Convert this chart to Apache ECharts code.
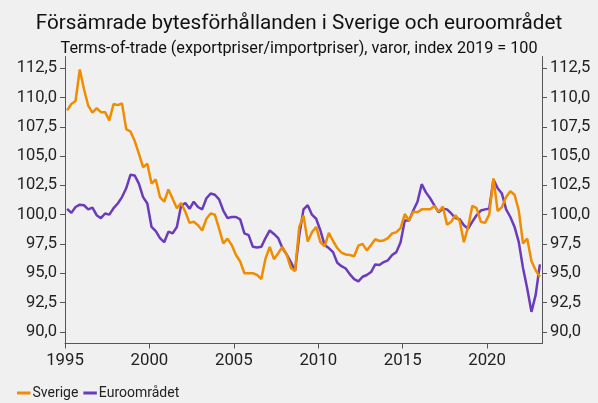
<!DOCTYPE html>
<html>
<head>
<meta charset="utf-8">
<script src="https://cdn.jsdelivr.net/npm/echarts@6/dist/echarts.min.js"></script>
<style>
html,body{margin:0;padding:0;background:#f0f0f0;}
#c{width:598px;height:403px;}
</style>
</head>
<body>
<div id="c"></div>
<script>
// Quarterly data, 1995 Q1 – 2023 Q1
var startYear = 1995;
var sverige = [108.9,109.45,109.7,112.4,110.7,109.3,108.7,109.1,108.75,108.75,108.05,109.45,109.35,109.5,107.3,107.1,106.3,105.2,104.05,104.35,102.65,103.0,101.5,101.1,102.15,101.35,100.55,101.0,100.25,99.3,99.4,99.1,98.65,99.65,100.1,100.0,98.8,97.55,97.95,97.4,96.55,96.0,95.0,95.0,95.0,94.85,94.5,96.25,97.25,96.2,96.7,97.25,96.6,95.45,95.2,98.95,99.9,97.7,98.5,98.95,97.65,97.3,98.45,97.75,97.15,96.75,96.6,96.55,96.45,97.35,97.5,96.95,97.4,97.9,97.75,97.8,98.0,98.4,98.5,98.85,100.05,99.5,100.25,100.2,100.45,100.45,100.45,100.75,100.25,100.7,99.15,99.4,99.95,99.45,97.65,98.95,100.75,100.55,99.4,99.3,100.0,103.1,100.3,100.65,101.5,102.0,101.7,100.35,97.55,97.95,96.05,95.25,94.7];
var euro = [100.5,100.15,100.65,100.85,100.8,100.45,100.6,99.95,99.7,100.1,100.0,100.55,100.95,101.5,102.25,103.4,103.35,102.65,101.5,100.95,98.95,98.6,98.0,97.65,98.55,98.4,98.95,100.75,101.0,100.5,101.1,100.65,100.45,101.4,101.8,101.7,101.3,100.35,99.7,99.8,99.8,99.6,98.4,98.25,97.25,97.2,97.25,98.0,98.65,98.35,98.0,97.15,96.6,95.95,95.2,98.25,100.45,100.8,100.0,99.65,98.65,97.4,97.15,96.8,95.9,95.6,95.4,94.9,94.5,94.3,94.7,94.85,95.1,95.75,95.7,95.95,96.1,96.55,96.8,97.65,99.5,99.5,100.35,101.1,102.6,101.9,101.4,100.8,100.2,100.5,100.45,100.1,99.7,99.6,99.1,98.8,99.4,99.95,100.35,100.45,100.5,103.0,102.25,101.8,100.45,99.8,98.95,97.65,95.45,93.7,91.7,93.15,95.75];
var xTicks = [1995,2000,2005,2010,2015,2020];
var yTicks = [90,92.5,95,97.5,100,102.5,105,107.5,110,112.5];
var titleText = 'Försämrade bytesförhållanden i Sverige och euroområdet';
var subtitleText = 'Terms-of-trade (exportpriser/importpriser), varor, index 2019 = 100';

function toPairs(arr){
  return arr.map(function(v,i){ return [startYear + i*0.25 + 0.125, v]; });
}
var FONT = 'Roboto';
var fmtY = function(v){ return v.toFixed(1).replace('.', ','); };
var axisLineStyle = {color:'#555', width:1};

function yAxisDef(pos){
  return {
    type:'value', position:pos, min:89, max:113.5,
    splitLine:{show:false},
    axisLine:{show:true, lineStyle:axisLineStyle},
    axisTick:{show:true, length:5, lineStyle:axisLineStyle, customValues:yTicks},
    axisLabel:{customValues:yTicks, formatter:fmtY, color:'#222', fontSize:16.5, fontFamily:FONT, margin:8}
  };
}

var chart = echarts.init(document.getElementById('c'), null, {renderer:'canvas'});
chart.setOption({
  backgroundColor:'#f0f0f0',
  animation:false,
  title:[
    {text:titleText, left:'center', top:8, textStyle:{fontFamily:FONT, fontSize:20.7, fontWeight:'normal', color:'#111'}},
    {text:subtitleText, left:'center', top:36, textStyle:{fontFamily:FONT, fontSize:16.2, fontWeight:'normal', color:'#111'}}
  ],
  legend:{
    left:12, top:381, itemWidth:13.5, itemHeight:3, itemGap:5,
    icon:'rect',
    textStyle:{fontFamily:FONT, fontSize:14, color:'#222', padding:[0,0,0,-3]},
    data:['Sverige','Euroområdet']
  },
  grid:{left:65, right:56, top:56.5, bottom:59.5},
  xAxis:{
    type:'value', min:1995, max:2023.25,
    splitLine:{show:false},
    axisLine:{show:true, onZero:false, lineStyle:axisLineStyle},
    axisTick:{show:true, length:5, lineStyle:axisLineStyle, customValues:xTicks},
    axisLabel:{customValues:xTicks, formatter:function(v){return String(Math.round(v));}, color:'#222', fontSize:16.8, fontFamily:FONT, margin:9}
  },
  yAxis:[yAxisDef('left'), yAxisDef('right')],
  series:[
    {name:'Sverige', type:'line', data:toPairs(sverige), showSymbol:false, symbol:'none', color:'#f08c00', lineStyle:{width:2.5, color:'#f08c00'}, yAxisIndex:0},
    {name:'Euroområdet', type:'line', data:toPairs(euro), showSymbol:false, symbol:'none', color:'#6a3cbc', lineStyle:{width:2.5, color:'#6a3cbc'}, yAxisIndex:0, z:1}
  ]
});
</script>
</body>
</html>
